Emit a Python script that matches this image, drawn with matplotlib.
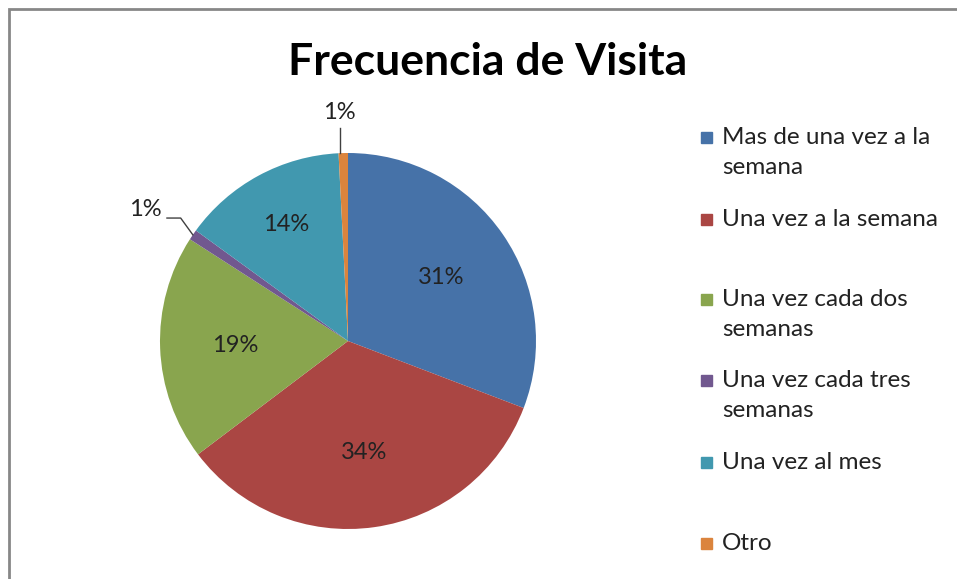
import numpy as np
import matplotlib
matplotlib.use('Agg')
import matplotlib.pyplot as plt
from matplotlib.patches import Rectangle

plt.rcParams['font.family'] = ['Lato', 'DejaVu Sans']

# Datos
categorias = ['Mas de una vez a la\nsemana', 'Una vez a la semana', 'Una vez cada dos\nsemanas',
              'Una vez cada tres\nsemanas', 'Una vez al mes', 'Otro']
valores = [30.8, 33.9, 19.4, 0.9, 14.2, 0.8]
colores = ['#4672A8', '#AA4643', '#89A54E', '#71588F', '#4198AF', '#DB843D']

W, H = 957, 579
fig = plt.figure(figsize=(W / 100, H / 100), dpi=100)

# pie centre (348, 341) px, radius 188 px
cx, cy, r = 348, 341, 188
ax = fig.add_axes([(cx - r) / W, 1 - (cy + r) / H, 2 * r / W, 2 * r / H])
wedges, texts, autotexts = ax.pie(valores, colors=colores, startangle=90, counterclock=False,
                                  radius=1, autopct='%.0f%%', pctdistance=0.6,
                                  textprops={'fontsize': 17, 'color': '#222222'})
ax.set_xlim(-1, 1)
ax.set_ylim(-1, 1)
ax.set_aspect('auto')

# adjust label for "Una vez al mes"
autotexts[4].set_position((-0.33, 0.62))

# outside labels with leader lines for the two small slices
def edge_point(w):
    t = np.deg2rad((w.theta1 + w.theta2) / 2)
    return np.cos(t), np.sin(t)

ex, ey = edge_point(wedges[3])
autotexts[3].set_position((-1.08, 0.70))
autotexts[3].set_ha('center')
ax.plot([-0.963, -0.89, ex], [0.654, 0.654, ey], color='#404040', lw=1, clip_on=False)

ex, ey = edge_point(wedges[5])
autotexts[5].set_position((ex - 0.02, 1.215))
ax.plot([ex - 0.02, ex - 0.02], [1.135, ey], color='#404040', lw=1, clip_on=False)

for t in autotexts:
    t.set_clip_on(False)

fig.text(488 / W, 1 - 62 / H, 'Frecuencia de Visita', fontsize=32, fontweight='bold',
         ha='center', va='center', color='black')

# legend drawn by hand to keep the uneven spacing
leg_y = [137, 219, 299, 380, 462, 543]
for lab, col, y in zip(categorias, colores, leg_y):
    fig.patches.append(Rectangle((701 / W, 1 - (y + 6) / H), 11 / W, 11 / H,
                                 transform=fig.transFigure, color=col))
    fig.text(722 / W, 1 - (y - 10) / H, lab, fontsize=17.5, va='top', ha='left',
             color='#222222', linespacing=1.55)

# chart border
fig.patches.append(Rectangle((8.5 / W, -0.05), 1.0, 1 - 8.5 / H + 0.05, transform=fig.transFigure,
                             fill=False, edgecolor='#878787', lw=2))

fig.savefig('out.png', dpi=100, facecolor='white')
